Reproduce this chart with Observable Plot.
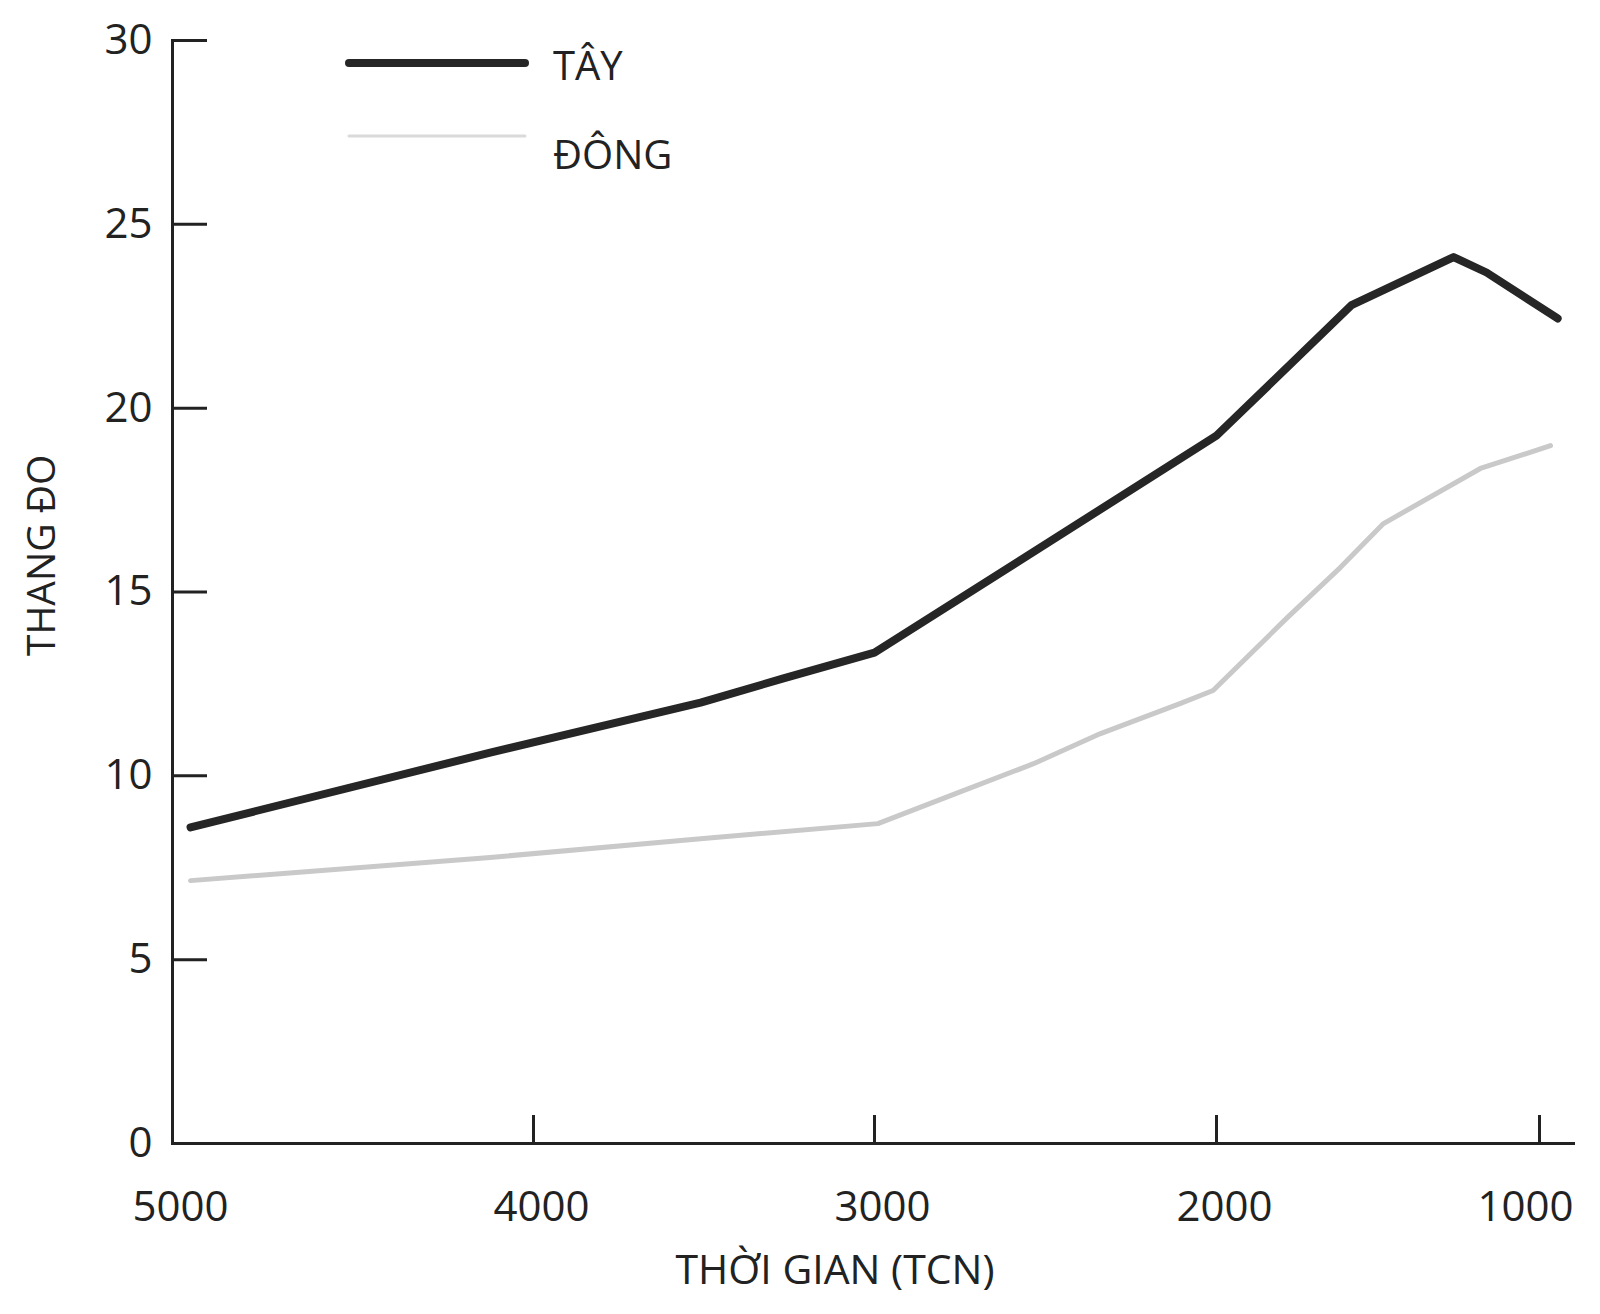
<!DOCTYPE html>
<html>
<head>
<meta charset="utf-8">
<script src="https://cdn.jsdelivr.net/npm/d3@7"></script>
<script src="https://cdn.jsdelivr.net/npm/@observablehq/plot@0.6"></script>
<style>
  html, body { margin: 0; padding: 0; background: #fff; }
  body { font-family: "Open Sans", "Noto Sans", sans-serif; }
  #wrap { position: relative; width: 1600px; height: 1314px; }
  #legend { position: absolute; left: 0; top: 0; width: 800px; height: 200px; pointer-events: none; }
  #legend text { font-family: "Open Sans", "Noto Sans", sans-serif; font-size: 40px; fill: #222; }
</style>
</head>
<body>
<div id="wrap">
  <div id="chart"></div>
  <svg id="legend" width="800" height="200"></svg>
</div>
<script>
// ---- data ----
const seriesNames = ["TÂY", "ĐÔNG"];
const seriesColors = ["#262626", "#c9c9c9"];

const tayYears  = [4950, 4120, 3510, 3267, 3000, 2000, 1582, 1266, 1164, 944];
const tayValues = [8.6, 10.63, 11.99, 12.65, 13.35, 19.25, 22.8, 24.11, 23.69, 22.44];

const dongYears  = [4950, 4120, 3510, 2990, 2778, 2535, 2339, 2105, 2010, 1780, 1616, 1483, 1183, 966];
const dongValues = [7.15, 7.78, 8.29, 8.7, 9.46, 10.33, 11.15, 11.97, 12.32, 14.31, 15.67, 16.86, 18.36, 18.98];

const xTickMarks  = [4000, 3000, 2000, 1000];
const xTickLabels = [5000, 4000, 3000, 2000, 1000];
const yTicks      = [0, 5, 10, 15, 20, 25, 30];

const xTitle = "THỜI GIAN (TCN)";
const yTitle = "THANG ĐO";

// ---- tables built from the arrays ----
const tay  = tayYears.map((x, i) => ({x, y: tayValues[i]}));
const dong = dongYears.map((x, i) => ({x, y: dongValues[i]}));

const ink = "#222";

const chart = Plot.plot({
  width: 1600,
  height: 1314,
  marginLeft: 172,
  marginRight: 27,
  marginTop: 40,
  marginBottom: 171,
  style: {fontFamily: '"Open Sans", "Noto Sans", sans-serif', fontSize: "42px", color: ink, background: "#fff"},
  x: {
    type: "linear",
    // hand-drawn axis: tick spacing is slightly uneven, so a piecewise scale
    domain: [5000, 4000, 3000, 2000, 1000, 895],
    range:  [172, 533, 874, 1216, 1539, 1573]
  },
  y: {
    domain: [0, 30]
  },
  marks: [
    Plot.frame({anchor: "left", stroke: ink, strokeWidth: 3}),
    Plot.frame({anchor: "bottom", stroke: ink, strokeWidth: 3}),
    Plot.axisY({ticks: yTicks, tickSize: -35, tickPadding: 55, stroke: ink, strokeWidth: 3,
                fill: ink, fontSize: 42, label: null}),
    Plot.axisX({ticks: xTickMarks, tickSize: -28, tickFormat: () => "", stroke: ink,
                strokeWidth: 3, label: null}),
    Plot.axisX({ticks: xTickLabels.filter(d => d > 1000), tickSize: 0, tickPadding: 48,
                tickFormat: d => String(d), dx: 8, fill: ink, fontSize: 42, label: null}),
    Plot.axisX({ticks: xTickLabels.filter(d => d <= 1000), tickSize: 0, tickPadding: 48,
                tickFormat: d => String(d), dx: -14, fill: ink, fontSize: 42, label: null}),
    Plot.text([xTitle], {text: d => d, frameAnchor: "bottom", dx: -38, dy: 127,
                         fontSize: 41, fill: ink, lineAnchor: "middle"}),
    Plot.text([yTitle], {text: d => d, frameAnchor: "left", rotate: -90, dx: -130, dy: 64,
                         fontSize: 39, fill: ink, lineAnchor: "middle"}),
    Plot.line(dong, {x: "x", y: "y", stroke: seriesColors[1], strokeWidth: 5,
                     strokeLinejoin: "round", strokeLinecap: "round"}),
    Plot.line(tay, {x: "x", y: "y", stroke: seriesColors[0], strokeWidth: 8,
                    strokeLinejoin: "round", strokeLinecap: "round"})
  ]
});
document.getElementById("chart").appendChild(chart);

// ---- legend overlay ----
const lg = d3.select("#legend");
const legendRows = [
  {name: seriesNames[0], color: seriesColors[0], width: 8, y: 63, ty: 69},
  {name: seriesNames[1], color: "#dadada", width: 3, y: 136, ty: 158}
];
legendRows.forEach(r => {
  lg.append("line").attr("x1", 349).attr("x2", 525).attr("y1", r.y).attr("y2", r.y)
    .attr("stroke", r.color).attr("stroke-width", r.width).attr("stroke-linecap", "round");
  lg.append("text").attr("x", 553).attr("y", r.ty).attr("dominant-baseline", "middle").text(r.name);
});
</script>
</body>
</html>
